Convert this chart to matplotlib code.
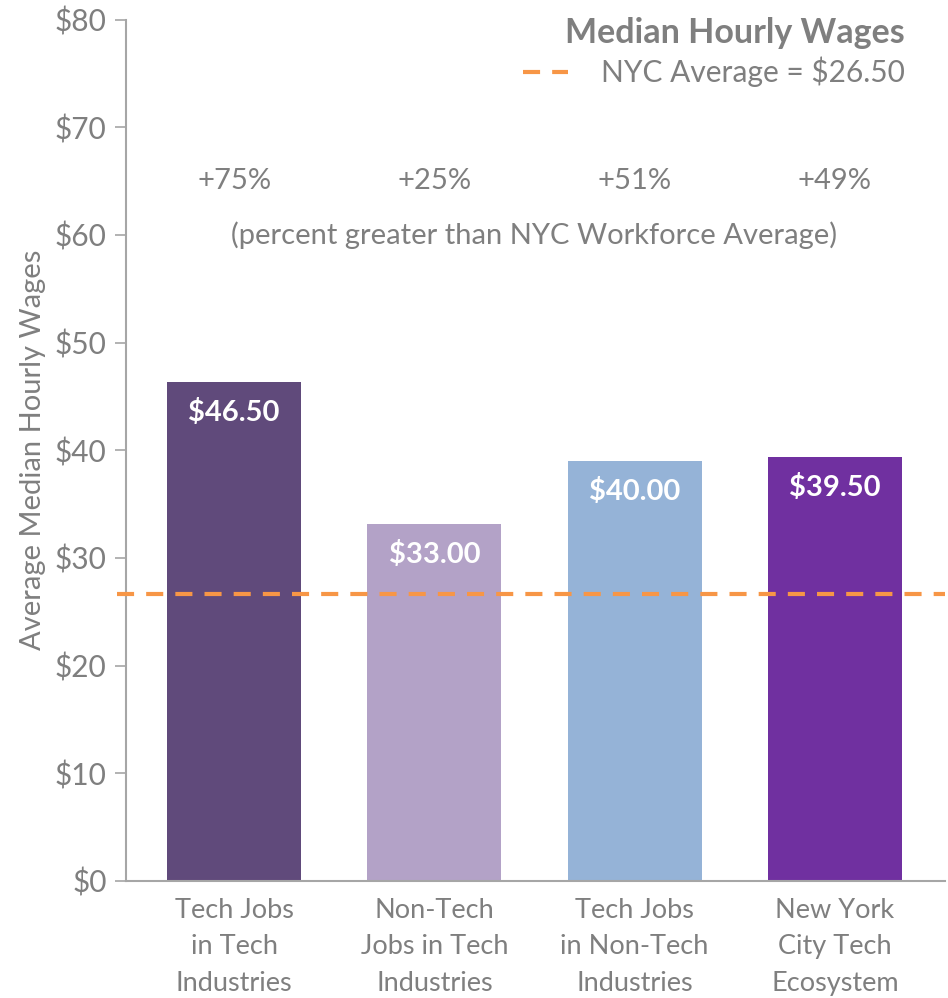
import matplotlib
matplotlib.use("Agg")
import matplotlib.pyplot as plt
from matplotlib.lines import Line2D
import matplotlib.transforms as mtransforms

categories = ["Tech Jobs\nin Tech\nIndustries", "Non-Tech\nJobs in Tech\nIndustries",
              "Tech Jobs\nin Non-Tech\nIndustries", "New York\nCity Tech\nEcosystem"]
bar_values = [46.3, 33.15, 39.0, 39.35]
value_labels = ["$46.50", "$33.00", "$40.00", "$39.50"]
pct_labels = ["+75%", "+25%", "+51%", "+49%"]
nyc_average = 26.65
nyc_label = "NYC Average = $26.50"
yticks = [0, 10, 20, 30, 40, 50, 60, 70, 80]
ytick_labels = ["$0", "$10", "$20", "$30", "$40", "$50", "$60", "$70", "$80"]
colors = ["#604A7B", "#B3A2C7", "#95B3D7", "#7030A0"]

GRAY = "#7F7F7F"
SPINE = "#A6A6A6"
ORANGE = "#F79646"
DASH = (4.1, 2.9)
plt.rcParams['font.family'] = ['Lato', 'DejaVu Sans']

fig = plt.figure(figsize=(9.48, 9.98), dpi=100)
ax = fig.add_axes([126/948, 1-881/998, (945-126)/948, (881-19.5)/998])

x = list(range(len(categories)))
ax.bar(x, bar_values, width=0.67, color=colors, zorder=2)
ax.set_xlim(-0.54, 3.55)
ax.set_ylim(0, 80)

ax.set_yticks(yticks)
ax.set_yticklabels(ytick_labels, fontsize=21.5, color=GRAY)
ax.set_xticks(x)
ax.set_xticklabels(categories, fontsize=19.5, color=GRAY, linespacing=1.58)
ax.tick_params(axis='x', length=0, pad=12)
ax.tick_params(axis='y', length=8, width=1.2, color=SPINE, pad=6)
for s in ["top", "right"]:
    ax.spines[s].set_visible(False)
for s in ["left", "bottom"]:
    ax.spines[s].set_color(SPINE)
    ax.spines[s].set_linewidth(1.5)

ax.set_ylabel("Average Median Hourly Wages", fontsize=21, color=GRAY, labelpad=6)

# NYC average dashed line
trans = mtransforms.blended_transform_factory(ax.transAxes, ax.transData)
ax.plot([-0.011, 1.0], [nyc_average, nyc_average], transform=trans, color=ORANGE,
        lw=3, dashes=DASH, clip_on=False, zorder=3)

for xi, v, lab, pct in zip(x, bar_values, value_labels, pct_labels):
    ax.text(xi, v - 2.8, lab, ha='center', va='center', color='white',
            fontsize=21, fontweight='bold', zorder=4)
    ax.text(xi, 65, pct, ha='center', va='center', color=GRAY, fontsize=21)

ax.text(1.5, 60, "(percent greater than NYC Workforce Average)", ha='center',
        va='center', color=GRAY, fontsize=21)

# Title / legend
fig.text(905/948, 1-33/998, "Median Hourly Wages", ha='right', va='center',
         fontsize=24.5, fontweight='bold', color=GRAY)
fig.text(905/948, 1-72/998, nyc_label, ha='right', va='center', fontsize=21.5, color=GRAY)
fig.add_artist(Line2D([523/948, 568/948], [1-72/998, 1-72/998], color=ORANGE, lw=3,
                      dashes=DASH, transform=fig.transFigure))

fig.savefig("out.png", dpi=100)
